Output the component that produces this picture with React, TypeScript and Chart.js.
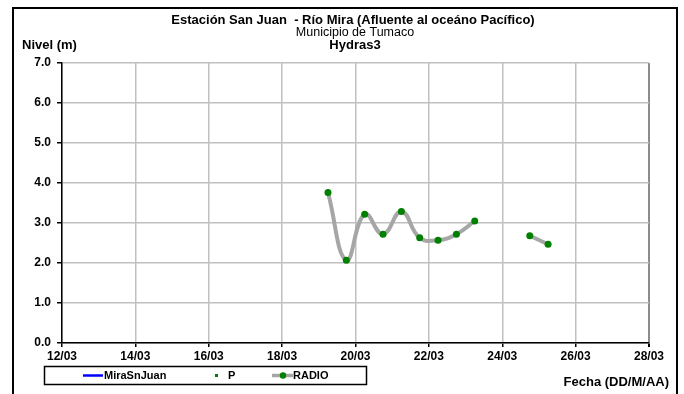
import React, { useEffect, useRef } from "react";
import { Chart, registerables } from "chart.js";

Chart.register(...registerables);

// ---- Data ----
const fechas = [
  "19/03 06:00", "19/03 18:00", "20/03 06:00", "20/03 18:00", "21/03 06:00",
  "21/03 18:00", "22/03 06:00", "22/03 18:00", "23/03 06:00", "23/03 18:00",
  "24/03 06:00", "24/03 18:00", "25/03 06:00",
];
const radio: (number | null)[] = [3.76, 2.07, 3.22, 2.72, 3.29, 2.63, 2.57, 2.72, 3.05, null, null, 2.68, 2.47];
const miraSnJuan: (number | null)[] = [];
const pLevels: (number | null)[] = [];
const xTickLabels = ["12/03", "14/03", "16/03", "18/03", "20/03", "22/03", "24/03", "26/03", "28/03"];
const yTickLabels = ["0.0", "1.0", "2.0", "3.0", "4.0", "5.0", "6.0", "7.0"];
const titleLines = ["Estación San Juan  - Río Mira (Afluente al oceáno Pacífico)", "Municipio de Tumaco", "Hydras3"];
const yTitle = "Nivel (m)";
const xTitle = "Fecha (DD/M/AA)";
const legendNames = ["MiraSnJuan", "P", "RADIO"];

const FONT = '"Liberation Sans", Arial, sans-serif';
const START_DAY = 12;

function toX(f: string): number {
  const [d, t] = f.split(" ");
  const day = parseInt(d.split("/")[0], 10);
  const [hh, mm] = t.split(":").map((s) => parseInt(s, 10));
  return day - START_DAY + (hh + mm / 60) / 24;
}

const decorPlugin = {
  id: "decor",
  afterDraw(chart: any) {
    const ctx = chart.ctx as CanvasRenderingContext2D;
    ctx.save();
    // outer frame
    ctx.strokeStyle = "#000";
    ctx.lineWidth = 2;
    ctx.strokeRect(13, 8, 664, 420);
    // titles
    ctx.fillStyle = "#000";
    ctx.textAlign = "center";
    ctx.textBaseline = "middle";
    ctx.font = `bold 13px ${FONT}`;
    ctx.fillText(titleLines[0], 353, 20);
    ctx.font = `12.5px ${FONT}`;
    ctx.fillText(titleLines[1], 355, 33);
    ctx.font = `bold 13px ${FONT}`;
    ctx.fillText(titleLines[2], 355, 45);
    ctx.textAlign = "left";
    ctx.fillText(yTitle, 22, 45);
    ctx.textAlign = "right";
    ctx.fillText(xTitle, 669, 382);
    // legend
    ctx.lineWidth = 1.5;
    ctx.strokeStyle = "#000";
    ctx.strokeRect(44.5, 366.5, 322, 18);
    const ly = 375.5;
    ctx.textAlign = "left";
    ctx.font = `bold 11px ${FONT}`;
    // MiraSnJuan
    ctx.strokeStyle = "#0000ff";
    ctx.lineWidth = 2.5;
    ctx.beginPath();
    ctx.moveTo(83, ly);
    ctx.lineTo(103, ly);
    ctx.stroke();
    ctx.fillText(legendNames[0], 104, ly + 0.5);
    // P
    ctx.fillStyle = "#008000";
    ctx.fillRect(215, ly - 1.5, 3, 3);
    ctx.fillStyle = "#000";
    ctx.fillText(legendNames[1], 228, ly + 0.5);
    // RADIO
    ctx.strokeStyle = "#a6a6a6";
    ctx.lineWidth = 3.5;
    ctx.beginPath();
    ctx.moveTo(272, ly);
    ctx.lineTo(293, ly);
    ctx.stroke();
    ctx.fillStyle = "#008000";
    ctx.beginPath();
    ctx.arc(283, ly, 3.2, 0, Math.PI * 2);
    ctx.fill();
    ctx.fillStyle = "#000";
    ctx.fillText(legendNames[2], 293, ly + 0.5);
    ctx.restore();
  },
};

export default function App() {
  const ref = useRef<HTMLCanvasElement | null>(null);
  useEffect(() => {
    if (!ref.current) return;
    const xs = fechas.map(toX);
    const chart = new Chart(ref.current, {
      type: "line",
      data: {
        datasets: [
          {
            label: legendNames[0],
            data: miraSnJuan.map((v, i) => ({ x: xs[i], y: v })) as any,
            borderColor: "#0000ff",
            borderWidth: 2.5,
            pointRadius: 0,
          },
          {
            label: legendNames[1],
            data: pLevels.map((v, i) => ({ x: xs[i], y: v })) as any,
            showLine: false,
            pointStyle: "rect",
            pointRadius: 2,
            backgroundColor: "#008000",
            borderColor: "#008000",
          },
          {
            label: legendNames[2],
            data: radio.map((v, i) => ({ x: xs[i], y: v })) as any,
            borderColor: "#a6a6a6",
            borderWidth: 4,
            tension: 0.45,
            spanGaps: false,
            pointRadius: 3.5,
            pointBackgroundColor: "#008000",
            pointBorderColor: "#008000",
            pointBorderWidth: 0,
          },
        ],
      },
      options: {
        responsive: false,
        animation: false,
        events: [],
        layout: { padding: { left: 0, top: 63, right: 35, bottom: 0 } },
        plugins: { legend: { display: false }, title: { display: false }, tooltip: { enabled: false } },
        scales: {
          x: {
            type: "linear",
            min: 0,
            max: 16,
            afterFit: (s: any) => { s.height = 51; },
            afterBuildTicks: (s: any) => {
              s.ticks = xTickLabels.map((_, i) => ({ value: i * 2 }));
            },
            ticks: {
              autoSkip: false,
              maxRotation: 0,
              padding: 2,
              color: "#000",
              font: { family: FONT, size: 12, weight: "bold" },
              callback: (v: any) => xTickLabels[Math.round(Number(v) / 2)] ?? "",
            },
            grid: {
              color: (c: any) => (c.tick && c.tick.value === 16 ? "#8c8c8c" : "#c0c0c0"),
              lineWidth: (c: any) => (c.tick && c.tick.value === 16 ? 2 : 1.5),
              tickColor: "#000",
              tickLength: 4,
              drawTicks: true,
            },
            border: { color: "#000", width: 1.5 },
          },
          y: {
            min: 0,
            max: 7,
            afterFit: (s: any) => { s.width = 62; },
            afterBuildTicks: (s: any) => {
              s.ticks = yTickLabels.map((_, i) => ({ value: i }));
            },
            ticks: {
              padding: 6,
              color: "#000",
              font: { family: FONT, size: 12, weight: "bold" },
              callback: (v: any) => yTickLabels[Math.round(Number(v))] ?? "",
            },
            grid: {
              color: "#c0c0c0",
              lineWidth: 1.5,
              tickColor: "#000",
              tickLength: 5,
              drawTicks: true,
            },
            border: { color: "#000", width: 1.5 },
          },
        },
      },
      plugins: [decorPlugin],
    });
    return () => chart.destroy();
  }, []);
  return (
    <div style={{ position: "absolute", left: 0, top: 0, width: 684, height: 394, background: "#fff" }}>
      <canvas ref={ref} width={684} height={394} style={{ display: "block" }} />
    </div>
  );
}
